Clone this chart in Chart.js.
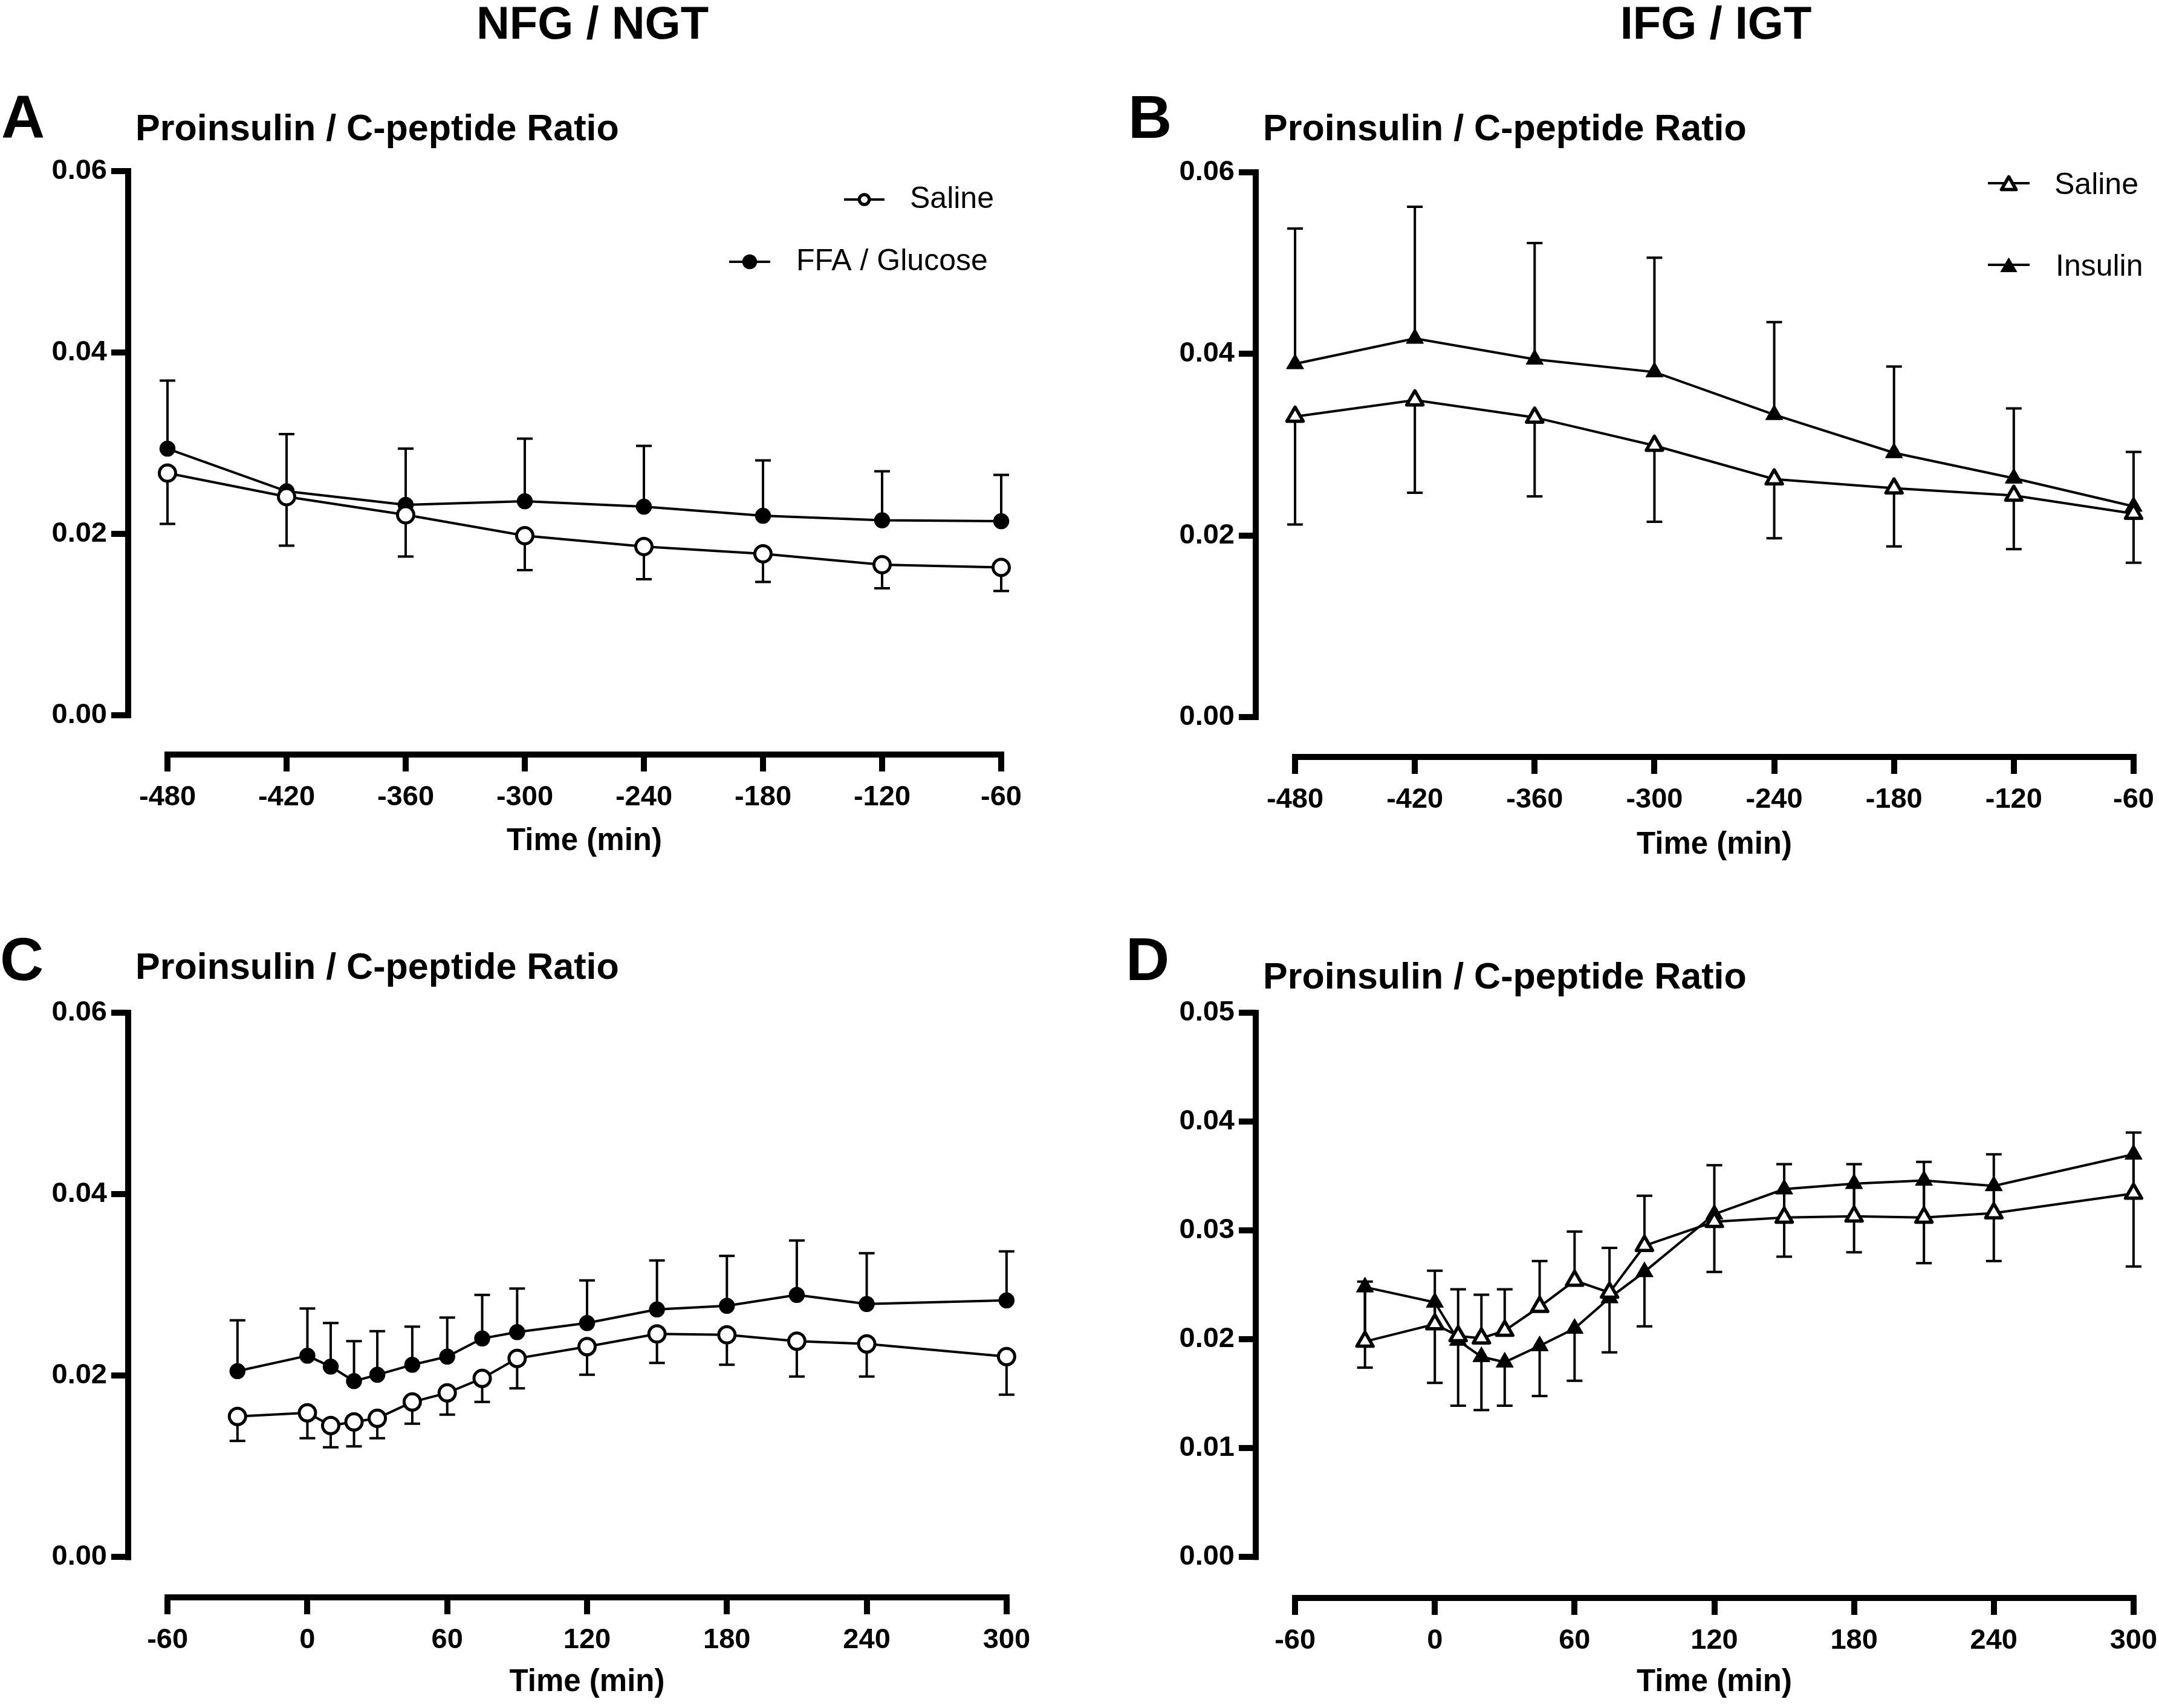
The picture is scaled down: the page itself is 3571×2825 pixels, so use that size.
<!DOCTYPE html>
<html>
<head>
<meta charset="utf-8">
<title>Proinsulin / C-peptide Ratio</title>
<script src="https://cdn.jsdelivr.net/npm/chart.js@4.4.0/dist/chart.umd.min.js"></script>
<style>
  html, body { margin: 0; padding: 0; background: #fff; overflow: hidden; }
  body { width: 3571px; height: 2825px; position: relative; font-family: "Liberation Sans", Arial, Helvetica, sans-serif; }
  canvas { position: absolute; }
  .txt { position: absolute; line-height: 1; white-space: nowrap; font-weight: bold; color: #000; }
</style>
</head>
<body>
<div class="txt" id="hdrLeft">NFG / NGT</div>
<div class="txt" id="hdrRight">IFG / IGT</div>
<div class="txt" id="letA">A</div>
<div class="txt" id="letB">B</div>
<div class="txt" id="letC">C</div>
<div class="txt" id="letD">D</div>
<div class="txt" id="titA">Proinsulin / C-peptide Ratio</div>
<div class="txt" id="titB">Proinsulin / C-peptide Ratio</div>
<div class="txt" id="titC">Proinsulin / C-peptide Ratio</div>
<div class="txt" id="titD">Proinsulin / C-peptide Ratio</div>
<canvas id="chartA"></canvas>
<canvas id="chartB"></canvas>
<canvas id="chartC"></canvas>
<canvas id="chartD"></canvas>
<script>
// ---- data ----
const timesPre = [-480, -420, -360, -300, -240, -180, -120, -60];
const timesPost = [-30, 0, 10, 20, 30, 45, 60, 75, 90, 120, 150, 180, 210, 240, 300];

const xTicksPre = [-480, -420, -360, -300, -240, -180, -120, -60];
const xTicksPost = [-60, 0, 60, 120, 180, 240, 300];
const yTicks06 = [0, 0.02, 0.04, 0.06];
const yTicks05 = [0, 0.01, 0.02, 0.03, 0.04, 0.05];

// A: NFG/NGT, pre
const salineA = [0.0267, 0.0241, 0.0221, 0.0198, 0.0186, 0.0178, 0.0166, 0.0163];
const salineSemA = [0.0056, 0.0054, 0.0046, 0.0038, 0.0036, 0.0031, 0.0026, 0.0026];
const ffaA = [0.0294, 0.0247, 0.0232, 0.0236, 0.0230, 0.0220, 0.0215, 0.0214];
const ffaSemA = [0.0075, 0.0063, 0.0062, 0.0069, 0.0067, 0.0061, 0.0054, 0.0051];

// B: IFG/IGT, pre
const salineB = [0.0331, 0.0349, 0.0330, 0.0299, 0.0262, 0.0252, 0.0244, 0.0224];
const salineSemB = [0.0119, 0.0102, 0.0087, 0.0084, 0.0065, 0.0064, 0.0059, 0.0054];
const insulinB = [0.0389, 0.0417, 0.0394, 0.0380, 0.0333, 0.0291, 0.0263, 0.0232];
const insulinSemB = [0.0149, 0.0145, 0.0128, 0.0126, 0.0102, 0.0095, 0.0077, 0.0060];

// C: NFG/NGT, post
const salineC = [0.0155, 0.0159, 0.0145, 0.0149, 0.0153, 0.0171, 0.0181, 0.0197, 0.0219, 0.0232, 0.0246, 0.0245, 0.0238, 0.0235, 0.0221];
const salineSemC = [0.0027, 0.0028, 0.0024, 0.0027, 0.0022, 0.0024, 0.0024, 0.0026, 0.0033, 0.0031, 0.0032, 0.0033, 0.0039, 0.0036, 0.0042];
const ffaC = [0.0205, 0.0222, 0.0210, 0.0194, 0.0201, 0.0212, 0.0221, 0.0241, 0.0248, 0.0258, 0.0273, 0.0277, 0.0289, 0.0279, 0.0283];
const ffaSemC = [0.0056, 0.0052, 0.0048, 0.0044, 0.0048, 0.0042, 0.0043, 0.0048, 0.0048, 0.0047, 0.0054, 0.0055, 0.0060, 0.0056, 0.0054];

// D: IFG/IGT, post
const salineD = [0.0198, 0.0214, 0.0203, 0.0201, 0.0208, 0.0230, 0.0254, 0.0243, 0.0286, 0.0308, 0.0312, 0.0313, 0.0312, 0.0316, 0.0334];
const salineSemD = [0.0055, 0.0049, 0.0043, 0.0040, 0.0038, 0.0042, 0.0045, 0.0041, 0.0046, 0.0052, 0.0049, 0.0048, 0.0051, 0.0054, 0.0056];
const insulinD = [0.0248, 0.0234, 0.0199, 0.0184, 0.0179, 0.0194, 0.0210, 0.0238, 0.0262, 0.0315, 0.0338, 0.0343, 0.0346, 0.0341, 0.0370];
const insulinSemD = [0.0074, 0.0074, 0.0060, 0.0049, 0.0040, 0.0046, 0.0048, 0.0050, 0.0050, 0.0053, 0.0062, 0.0063, 0.0076, 0.0069, 0.0103];

// ---- page text ----
function place(id, x, baseline, size, center) {
  const el = document.getElementById(id);
  el.style.fontSize = size + 'px';
  el.style.top = (baseline - 0.8465 * size) + 'px';
  el.style.left = x + 'px';
  if (center) el.style.transform = 'translateX(-50%)';
}
place('hdrLeft', 980, 64, 76, true);
place('hdrRight', 2838, 64, 76, true);
place('letA', 2, 228, 100);
place('letB', 1866, 228, 100);
place('letC', 0, 1621, 100);
place('letD', 1862, 1621, 100);
place('titA', 224, 233, 61);
place('titB', 2089, 233, 61);
place('titC', 224, 1620, 61);
place('titD', 2089, 1636, 61);

Chart.defaults.font.family = '"Liberation Sans", Arial, Helvetica, sans-serif';
Chart.defaults.color = '#000';

// GraphPad style: detached axes + one-sided error bars
const gpAxes = {
  id: 'gpAxes',
  beforeDatasetsDraw(chart, args, opts) {
    const { ctx, chartArea } = chart;
    const x = chart.scales.x, y = chart.scales.y;
    const xt = opts.xTicks, yt = opts.yTicks;
    const h = opts.width / 2;
    ctx.save();
    ctx.strokeStyle = '#000';
    ctx.lineWidth = opts.width;
    ctx.lineCap = 'butt';
    ctx.beginPath();
    ctx.moveTo(chartArea.left, y.getPixelForValue(yt[0]) + h);
    ctx.lineTo(chartArea.left, y.getPixelForValue(yt[yt.length - 1]) - h);
    ctx.moveTo(x.getPixelForValue(xt[0]) - h, chartArea.bottom);
    ctx.lineTo(x.getPixelForValue(xt[xt.length - 1]) + h, chartArea.bottom);
    ctx.stroke();

    ctx.lineWidth = opts.barWidth;
    chart.data.datasets.forEach((ds, di) => {
      if (!ds.errors) return;
      const meta = chart.getDatasetMeta(di);
      meta.data.forEach((pt, i) => {
        const end = y.getPixelForValue(ds.data[i].y + ds.errorDir * ds.errors[i]);
        ctx.beginPath();
        ctx.moveTo(pt.x, pt.y);
        ctx.lineTo(pt.x, end);
        ctx.moveTo(pt.x - opts.cap / 2, end);
        ctx.lineTo(pt.x + opts.cap / 2, end);
        ctx.stroke();
      });
    });
    ctx.restore();
    ctx.lineJoin = 'round';
  }
};

const gpLegend = {
  id: 'gpLegend',
  afterDatasetsDraw(chart, args, opts) {
    if (!opts.items) return;
    const ctx = chart.ctx;
    ctx.save();
    opts.items.forEach(it => {
      const ds = chart.data.datasets[it.dataset];
      ctx.strokeStyle = '#000';
      ctx.lineWidth = 4;
      ctx.beginPath();
      ctx.moveTo(it.x1, it.y);
      ctx.lineTo(it.x2, it.y);
      ctx.stroke();
      ctx.lineJoin = 'round';
      ctx.fillStyle = ds.pointBackgroundColor;
      ctx.strokeStyle = '#000';
      ctx.lineWidth = it.bw;
      const dy = ds.pointStyle === 'triangle' ? it.r / 4 : 0;
      Chart.helpers.drawPoint(ctx, { pointStyle: ds.pointStyle, radius: it.r, rotation: 0, borderWidth: it.bw }, (it.x1 + it.x2) / 2, it.y + dy);
      ctx.fillStyle = '#000';
      ctx.font = opts.font;
      ctx.textAlign = 'left';
      ctx.textBaseline = 'alphabetic';
      ctx.fillText(ds.label, it.tx, it.y + opts.shift);
    });
    ctx.restore();
  }
};

const openCircle = { pointStyle: 'circle', pointRadius: 13.5, pointBorderWidth: 5, pointBackgroundColor: '#fff' };
const filledCircle = { pointStyle: 'circle', pointRadius: 12, pointBorderWidth: 2.5, pointBackgroundColor: '#000' };
const openTriangle = { pointStyle: 'triangle', pointRadius: 15.5, pointBorderWidth: 5.5, pointBackgroundColor: '#fff' };
const filledTriangle = { pointStyle: 'triangle', pointRadius: 16.5, pointBorderWidth: 1, pointBackgroundColor: '#000' };

function series(label, times, vals, sem, dir, marker) {
  return Object.assign({
    label: label,
    data: times.map((t, i) => ({ x: t, y: vals[i] })),
    errors: sem,
    errorDir: dir,
    borderColor: '#000',
    borderWidth: 4,
    tension: 0,
    clip: false,
    pointBorderColor: '#000',
    pointHoverRadius: 0
  }, marker);
}

const tickGrid = { drawOnChartArea: false, drawTicks: true, tickLength: 28, lineWidth: 10, color: '#000' };

function makePanel(p) {
  const cv = document.getElementById(p.id);
  cv.width = p.canvas.w;
  cv.height = p.canvas.h;
  cv.style.left = p.canvas.left + 'px';
  cv.style.top = p.canvas.top + 'px';
  cv.style.width = p.canvas.w + 'px';
  cv.style.height = p.canvas.h + 'px';
  return new Chart(cv, {
    type: 'line',
    data: { datasets: p.datasets },
    plugins: [gpAxes, gpLegend],
    options: {
      responsive: false,
      animation: false,
      events: [],
      devicePixelRatio: 1,
      layout: {
        padding: {
          left: 0,
          top: p.area.top - p.canvas.top,
          right: p.canvas.left + p.canvas.w - p.area.right,
          bottom: 0
        }
      },
      plugins: {
        legend: { display: false },
        tooltip: { enabled: false },
        gpAxes: { xTicks: p.xTicks, yTicks: p.yTicks, width: 10, barWidth: 4, cap: 26 },
        gpLegend: { items: p.legend, font: '50px "Liberation Sans", Arial, sans-serif', shift: p.legendShift }
      },
      scales: {
        x: {
          type: 'linear',
          min: p.xMin,
          max: p.xMax,
          afterBuildTicks: s => { s.ticks = p.xTicks.map(v => ({ value: v })); },
          afterFit: s => { s.height = p.canvas.top + p.canvas.h - p.area.bottom; },
          grid: tickGrid,
          border: { display: false },
          ticks: { autoSkip: false, maxRotation: 0, padding: 15, font: { size: 47, weight: 'bold' }, callback: v => String(v) },
          title: { display: true, text: 'Time (min)', font: { size: 51, weight: 'bold' }, padding: { top: 0, bottom: p.titlePad } }
        },
        y: {
          type: 'linear',
          min: p.yMin,
          max: p.yMax,
          afterBuildTicks: s => { s.ticks = p.yTicks.map(v => ({ value: v })); },
          afterFit: s => { s.width = p.area.left - p.canvas.left; },
          grid: tickGrid,
          border: { display: false },
          ticks: { padding: 7, font: { size: 47, weight: 'bold' }, callback: v => v.toFixed(2) }
        }
      }
    }
  });
}

makePanel({
  id: 'chartA',
  canvas: { left: 0, top: 240, w: 1790, h: 1200 },
  area: { left: 212, top: 283, right: 1721, bottom: 1248 },
  xMin: -499.8, xMax: -40.2, yMin: -0.00433, yMax: 0.06,
  xTicks: xTicksPre, yTicks: yTicks06, titlePad: 17,
  datasets: [
    series('Saline', timesPre, salineA, salineSemA, -1, openCircle),
    series('FFA / Glucose', timesPre, ffaA, ffaSemA, 1, filledCircle)
  ],
  legend: [
    { dataset: 0, x1: 1396, x2: 1463, y: 90, tx: 1505, r: 8.2, bw: 5.3 },
    { dataset: 1, x1: 1206, x2: 1274, y: 193, tx: 1317, r: 11, bw: 2.5 }
  ],
  legendShift: 14
});

makePanel({
  id: 'chartB',
  canvas: { left: 1860, top: 240, w: 1780, h: 1200 },
  area: { left: 2077, top: 285, right: 3594, bottom: 1252 },
  xMin: -499.7, xMax: -40.3, yMin: -0.0044, yMax: 0.06,
  xTicks: xTicksPre, yTicks: yTicks06, titlePad: 11,
  datasets: [
    series('Saline', timesPre, salineB, salineSemB, -1, openTriangle),
    series('Insulin', timesPre, insulinB, insulinSemB, 1, filledTriangle)
  ],
  legend: [
    { dataset: 0, x1: 1428, x2: 1497, y: 63, tx: 1538, r: 14, bw: 5.5 },
    { dataset: 1, x1: 1428, x2: 1497, y: 198, tx: 1540, r: 15.5, bw: 1 }
  ],
  legendShift: 18
});

makePanel({
  id: 'chartC',
  canvas: { left: 0, top: 1640, w: 1790, h: 1185 },
  area: { left: 212, top: 1670, right: 1730, bottom: 2642 },
  xMin: -76.9, xMax: 316.9, yMin: -0.00444, yMax: 0.06,
  xTicks: xTicksPost, yTicks: yTicks06, titlePad: 11,
  datasets: [
    series('Saline', timesPost, salineC, salineSemC, -1, openCircle),
    series('FFA / Glucose', timesPost, ffaC, ffaSemC, 1, filledCircle)
  ],
  legend: null
});

makePanel({
  id: 'chartD',
  canvas: { left: 1860, top: 1640, w: 1780, h: 1185 },
  area: { left: 2077, top: 1670, right: 3594, bottom: 2643 },
  xMin: -76.9, xMax: 316.9, yMin: -0.00376, yMax: 0.05,
  xTicks: xTicksPost, yTicks: yTicks05, titlePad: 11,
  datasets: [
    series('Saline', timesPost, salineD, salineSemD, 1, openTriangle),
    series('Insulin', timesPost, insulinD, insulinSemD, -1, filledTriangle)
  ],
  legend: null
});
</script>
</body>
</html>
